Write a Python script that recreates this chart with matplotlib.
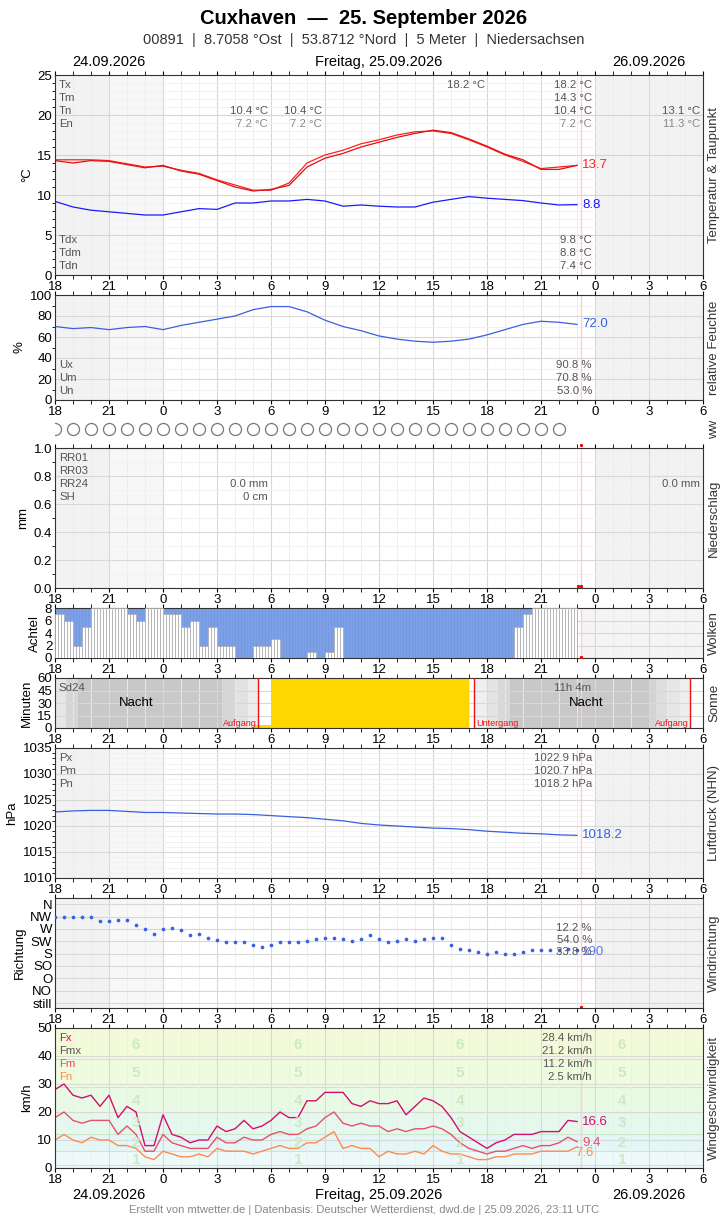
import numpy as np
import matplotlib
matplotlib.use("Agg")
import matplotlib.pyplot as plt

plt.rcParams['font.family'] = ['Liberation Sans', 'DejaVu Sans']

# ---------------- data ----------------
hour_labels = ["18", "21", "0", "3", "6", "9", "12", "15", "18", "21", "0", "3", "6"]
# hourly values from 18:00 (24.09) to 23:00 (25.09)
temp_a = [14.4, 14.4, 14.4, 14.3, 13.9, 13.5, 13.6, 13.1, 12.7, 11.9, 11.25, 10.6, 10.6, 11.5, 14.0,
          15.0, 15.6, 16.4, 16.9, 17.5, 17.9, 18.0, 17.7, 16.9, 16.0, 15.0, 14.2, 13.3, 13.5, 13.7]
temp_b = [14.3, 14.0, 14.3, 14.2, 13.8, 13.4, 13.7, 13.0, 12.6, 11.8, 11.0, 10.5, 10.7, 11.2, 13.5,
          14.6, 15.2, 16.0, 16.6, 17.2, 17.7, 18.1, 17.8, 17.0, 16.1, 15.1, 14.4, 13.2, 13.2, 13.7]
dew = [9.2, 8.5, 8.1, 7.9, 7.7, 7.5, 7.5, 7.9, 8.3, 8.2, 9.0, 9.0, 9.25, 9.25, 9.45, 9.25,
       8.6, 8.75, 8.6, 8.5, 8.5, 9.1, 9.45, 9.8, 9.6, 9.45, 9.3, 9.0, 8.75, 8.8]
humid = [70, 68, 69, 67, 69, 70, 67, 71, 74, 77, 80, 86, 89, 89, 84, 76, 70, 66, 61, 58, 56,
         55, 56, 58, 62, 67, 72, 75, 74, 72]
press = [1022.7, 1022.9, 1023.0, 1023.0, 1022.8, 1022.6, 1022.6, 1022.5, 1022.4, 1022.3, 1022.3,
         1022.2, 1022.0, 1021.8, 1021.6, 1021.3, 1021.0, 1020.5, 1020.2, 1020.0, 1019.8, 1019.6,
         1019.5, 1019.3, 1019.0, 1018.8, 1018.6, 1018.5, 1018.3, 1018.2]
# half-hourly values
cloud_clear = [7, 6, 2, 5, 8, 8, 8, 8, 7, 6, 8, 8, 7, 7, 5, 6, 2, 5, 2, 2, 0, 0, 2, 2, 3, 0, 0, 0, 1, 0,
               1, 5, 0, 0, 0, 0, 0, 0, 0, 0, 0, 0, 0, 0, 0, 0, 0, 0, 0, 0, 0, 5, 7, 8, 8, 8, 8, 8]
wind_dir = [7.0, 7.0, 7.0, 7.0, 7.0, 6.6, 6.6, 6.7, 6.7, 6.3, 6.0, 5.6, 6.0, 6.1, 5.9, 5.5, 5.6, 5.3,
            5.1, 4.9, 4.9, 4.9, 4.7, 4.5, 4.7, 4.9, 4.9, 4.9, 5.0, 5.2, 5.3, 5.3, 5.2, 5.0, 5.2, 5.5,
            5.2, 4.9, 5.0, 5.2, 5.0, 5.2, 5.3, 5.3, 4.7, 4.4, 4.3, 4.1, 4.0, 4.1, 4.0, 4.0, 4.1, 4.3,
            4.3, 4.3, 4.3, 4.4, 4.3]
gust = [28, 30, 26, 25, 26, 22, 26, 18, 22, 20, 8, 8, 19, 12, 11, 9, 10, 10, 15, 13, 14, 17, 14, 15,
        17, 20, 18, 18, 24, 24, 27, 27, 27, 23, 22, 24, 23, 23, 24, 19, 22, 25, 24, 22, 18, 13, 11, 9,
        7, 9, 10, 12, 12, 12, 13, 13, 13, 17, 16.6]
wmean = [18, 20, 17, 16, 17, 17, 17, 12, 15, 12, 6, 6, 12, 9, 8, 7, 7, 7, 11, 9, 9, 11, 10, 10, 12,
         13, 12, 12, 14, 15, 18, 20, 16, 15, 16, 15, 15, 13, 14, 13, 14, 14, 15, 14, 12, 9, 7, 6, 5, 6,
         6, 7, 8, 7, 8, 8, 9, 11, 9.4]
wmin = [10, 12, 10, 9, 11, 10, 10, 8, 8, 7, 4, 3, 6, 5, 4, 4, 5, 4, 7, 6, 6, 6, 5, 6, 7, 8, 7, 7, 9, 9,
        11, 13, 7, 8, 7, 7, 4, 6, 5, 5, 6, 5, 8, 6, 5, 5, 4, 3, 3, 4, 4, 5, 5, 5, 6, 6, 6, 6, 7.6]
sun_hours = [5, 6, 7, 8, 9, 10, 11, 12, 13, 14, 15, 16]
sun_minutes = [4, 60, 60, 60, 60, 60, 60, 60, 60, 60, 60, 60]
dir_labels = ["still", "NO", "O", "SO", "S", "SW", "W", "NW", "N"]

t_hour = np.arange(len(temp_a))
t_half = np.arange(len(gust)) * 0.5
t_dir = np.arange(len(wind_dir)) * 0.5
NOW = 29.2

W, H = 728, 1218
fig = plt.figure(figsize=(W / 100, H / 100), dpi=100)
GRAY = "#555555"


def make_ax(top, bot, left=55, right=703):
    return fig.add_axes([left / W, 1 - bot / H, (right - left) / W, (bot - top) / H])


def setup(ax, ylabel, rlabel, shade=True, minor_y=None):
    ax.set_xlim(0, 36)
    ax.set_xticks(np.arange(0, 37, 3))
    ax.set_xticklabels(hour_labels, fontsize=9)
    ax.set_xticks(np.arange(0, 37, 1), minor=True)
    ax.tick_params(axis='x', which='both', top=True, direction='out', length=3, pad=1, labelsize=9.5)
    ax.tick_params(axis='y', labelsize=9.5, length=0, pad=2)
    ax.grid(True, which='major', color='#d8d8d8', lw=0.8)
    ax.grid(True, which='minor', axis='x', color='#ececec', lw=0.6)
    if minor_y is not None:
        ax.set_yticks(minor_y, minor=True)
        ax.grid(True, which='minor', axis='y', color='#f0f0f0', lw=0.6)
    ax.set_axisbelow(True)
    if shade:
        ax.axvspan(0, 3, color='#f2f2f2', zorder=0, lw=0)
        ax.axvspan(3, 6, color='#f7f7f7', zorder=0, lw=0)
        ax.axvspan(30, 36, color='#f2f2f2', zorder=0, lw=0)
    ax.axvline(NOW, color='#ffcccc', lw=1, zorder=1)
    ax.set_ylabel(ylabel, fontsize=9.5, labelpad=3)
    ax.text(1.017, 0.5, rlabel, transform=ax.transAxes, rotation=90, ha='center', va='center',
            fontsize=9.5, color='#333333')
    for s in ax.spines.values():
        s.set_color('#333333')
        s.set_linewidth(0.8)


def txt(ax, x, y, s, ha='left', color=GRAY, size=8.2):
    ax.text(x, y, s, ha=ha, va='center', color=color, fontsize=size, transform=ax.transAxes)


def px(xp, ax_left=55, ax_w=648):
    return (xp - ax_left) / ax_w


# titles
fig.text(0.5, 1 - 18 / H, "Cuxhaven  —  25. September 2026", ha='center', va='center',
         fontsize=14.5, fontweight='bold')
fig.text(0.5, 1 - 40 / H, "00891  |  8.7058 °Ost  |  53.8712 °Nord  |  5 Meter  |  Niedersachsen",
         ha='center', va='center', fontsize=10.5, color='#333333')
for yy in (62, 1195):
    fig.text(109 / W, 1 - yy / H, "24.09.2026", ha='center', va='center', fontsize=10.5)
    fig.text(379 / W, 1 - yy / H, "Freitag, 25.09.2026", ha='center', va='center', fontsize=10.5)
    fig.text(649 / W, 1 - yy / H, "26.09.2026", ha='center', va='center', fontsize=10.5)
fig.text(0.5, 1 - 1210 / H, "Erstellt von mtwetter.de | Datenbasis: Deutscher Wetterdienst, dwd.de | 25.09.2026, 23:11 UTC",
         ha='center', va='center', fontsize=8, color='#888888')

# ---- temperature ----
ax = make_ax(75, 275)
setup(ax, "°C", "Temperatur & Taupunkt", minor_y=np.arange(0, 26, 1))
ax.set_ylim(0, 25)
ax.set_yticks([0, 5, 10, 15, 20, 25])
ax.grid(True, which='major', axis='y', color='#f4c8c8', lw=0.8)
ax.plot(t_hour, temp_a, color='#ff2020', lw=0.9)
ax.plot(t_hour, temp_b, color='#e01010', lw=0.9)
ax.plot(t_hour, dew, color='#1a1aff', lw=0.9)
ax.text(29.3, temp_a[-1], "13.7", color='#ff2020', fontsize=9.5, va='center')
ax.text(29.3, dew[-1], "8.8", color='#1a1aff', fontsize=9.5, va='center')
for i, lab in enumerate(["Tx", "Tm", "Tn", "En"]):
    txt(ax, px(59), 1 - (10 + 13 * i) / 200, lab)
for i, lab in enumerate(["Tdx", "Tdm", "Tdn"]):
    txt(ax, px(59), 1 - (165 + 13 * i) / 200, lab)
for i, v in enumerate(["18.2 °C", "14.3 °C", "10.4 °C", "7.2 °C"]):
    txt(ax, px(592), 1 - (10 + 13 * i) / 200, v, ha='right', color=GRAY if i < 3 else '#888888')
for i, v in enumerate(["9.8 °C", "8.8 °C", "7.4 °C"]):
    txt(ax, px(592), 1 - (165 + 13 * i) / 200, v, ha='right')
txt(ax, px(485), 1 - 10 / 200, "18.2 °C", ha='right')
for xx in (268, 322):
    txt(ax, px(xx), 1 - 36 / 200, "10.4 °C", ha='right')
    txt(ax, px(xx), 1 - 49 / 200, "7.2 °C", ha='right', color='#888888')
txt(ax, px(700), 1 - 36 / 200, "13.1 °C", ha='right')
txt(ax, px(700), 1 - 49 / 200, "11.3 °C", ha='right', color='#888888')

# ---- humidity ----
ax = make_ax(295, 400)
setup(ax, "%", "relative Feuchte", minor_y=np.arange(0, 101, 10))
ax.set_ylim(0, 100)
ax.set_yticks([0, 20, 40, 60, 80, 100])
ax.plot(t_hour, humid, color='#3a5fe0', lw=0.9)
ax.text(29.3, humid[-1], "72.0", color='#3a5fe0', fontsize=9.5, va='center')
for i, (lab, v) in enumerate(zip(["Ux", "Um", "Un"], ["90.8 %", "70.8 %", "53.0 %"])):
    txt(ax, px(59), (35 - 13 * i) / 105, lab)
    txt(ax, px(592), (35 - 13 * i) / 105, v, ha='right')

# ---- ww row ----
ax = make_ax(419, 439)
ax.set_xlim(0, 36)
ax.set_ylim(0, 1)
ax.axis('off')
ax.scatter(np.arange(0, 29), np.full(29, 0.5), s=75, facecolors='white', edgecolors='#777777', lw=0.9)
ax.plot([NOW], [-0.3], marker='s', ms=1.2, color='red', clip_on=False)
ax.text(1.017, 0.5, "ww", transform=ax.transAxes, rotation=90, ha='center', va='center', fontsize=9.5,
        color='#333333')

# ---- precipitation ----
ax = make_ax(448, 588)
setup(ax, "mm", "Niederschlag", minor_y=np.arange(0, 1.01, 0.1))
ax.set_ylim(0, 1)
ax.set_yticks(np.arange(0, 1.01, 0.2))
ax.set_yticklabels(["0.0", "0.2", "0.4", "0.6", "0.8", "1.0"])
ax.plot([NOW - 0.15, NOW + 0.05], [0.012, 0.012], 's', ms=1.2, color='red')
for i, lab in enumerate(["RR01", "RR03", "RR24", "SH"]):
    txt(ax, px(59), 1 - (10 + 13 * i) / 140, lab)
txt(ax, px(268), 1 - 36 / 140, "0.0 mm", ha='right')
txt(ax, px(268), 1 - 49 / 140, "0 cm", ha='right')
txt(ax, px(700), 1 - 36 / 140, "0.0 mm", ha='right')

# ---- clouds ----
ax = make_ax(608, 658)
setup(ax, "Achtel", "Wolken", shade=False)
ax.axvspan(NOW, 36, color='#f4f4f4', zorder=0, lw=0)
ax.set_ylim(0, 8)
ax.set_yticks([0, 2, 4, 6, 8])
clear10 = np.repeat(cloud_clear, 3)
t10 = np.arange(len(clear10)) / 6.0
ax.bar(t10, np.full(len(t10), 8), width=1 / 6, align='edge', color='#7ca0e8', edgecolor='#6c90dc',
       lw=0.4, zorder=2)
ax.bar(t10, clear10, width=1 / 6, align='edge', color='white', edgecolor='#a8a8a8', lw=0.5, zorder=3)
ax.plot([NOW], [0.2], 's', ms=1.2, color='red', zorder=4)

# ---- sunshine ----
ax = make_ax(678, 728)
setup(ax, "Minuten", "Sonne", shade=False)
ax.set_ylim(0, 60)
ax.set_yticks([0, 15, 30, 45, 60])
bands = [(0, 0.6, '#e6e6e6'), (0.6, 1.3, '#d6d6d6'), (1.3, 9.3, '#c8c8c8'), (9.3, 10.0, '#d6d6d6'),
         (10.0, 10.7, '#e2e2e2'), (10.7, 11.3, '#ededed'),
         (23.3, 24.0, '#efefef'), (24.0, 24.6, '#e4e4e4'), (24.6, 25.3, '#d8d8d8'), (25.3, 33.0, '#c8c8c8'),
         (33.0, 33.4, '#d4d4d4'), (33.4, 34.0, '#dedede'), (34.0, 34.7, '#e6e6e6'), (34.7, 35.3, '#eeeeee')]
for a, b, c in bands:
    ax.axvspan(a, b, color=c, zorder=0, lw=0)
ax.bar(np.array(sun_hours) + 6, sun_minutes, width=1, align='edge', color='#ffd700', zorder=2)
for xs in (11.3, 23.3, 35.3):
    ax.axvline(xs, color='#ee1111', lw=1, zorder=3)
ax.text(11.2, 6, "Aufgang", color='#ee1111', fontsize=6.5, ha='right', va='center')
ax.text(23.4, 6, "Untergang", color='#ee1111', fontsize=6.5, ha='left', va='center')
ax.text(35.2, 6, "Aufgang", color='#ee1111', fontsize=6.5, ha='right', va='center')
ax.text(4.5, 30, "Nacht", fontsize=9.5, ha='center', va='center')
ax.text(29.5, 30, "Nacht", fontsize=9.5, ha='center', va='center')
ax.text(0.2, 48, "Sd24", fontsize=8.2, color=GRAY, va='center')
ax.text(29.8, 48, "11h 4m", fontsize=8.2, color=GRAY, va='center', ha='right')

# ---- pressure ----
ax = make_ax(748, 878)
setup(ax, "hPa", "Luftdruck (NHN)", minor_y=np.arange(1010, 1036, 1))
ax.set_ylim(1010, 1035)
ax.set_yticks(np.arange(1010, 1036, 5))
ax.plot(t_hour, press, color='#3a5fe0', lw=0.9)
ax.text(29.3, press[-1], "1018.2", color='#3a5fe0', fontsize=9.5, va='center')
for i, (lab, v) in enumerate(zip(["Px", "Pm", "Pn"], ["1022.9 hPa", "1020.7 hPa", "1018.2 hPa"])):
    txt(ax, px(59), 1 - (10 + 13 * i) / 130, lab)
    txt(ax, px(592), 1 - (10 + 13 * i) / 130, v, ha='right')

# ---- wind direction ----
ax = make_ax(898, 1008)
setup(ax, "Richtung", "Windrichtung")
ax.set_ylim(-0.4, 8.5)
ax.set_yticks(range(9))
ax.set_yticklabels(dir_labels)
ax.scatter(t_dir, wind_dir, s=7, color='#3a5fe0', zorder=3, marker='o', lw=0)
ax.plot([NOW], [-0.3], 's', ms=1.2, color='red')
for i, v in enumerate(["12.2 %", "54.0 %", "33.8 %"]):
    txt(ax, px(592), 1 - (30 + 12 * i) / 110, v, ha='right')
ax.text(29.3, 4.1, "190", color='#3a5fe0', fontsize=9.5, va='center', alpha=0.8)

# ---- wind speed ----
ax = make_ax(1028, 1168)
setup(ax, "km/h", "Windgeschwindigkeit", shade=False)
ax.set_ylim(0, 50)
ax.set_yticks(np.arange(0, 51, 10))
bft = [(0, 6, '#eefafa'), (6, 12, '#e4f6f6'), (12, 20, '#e6f8ee'), (20, 29, '#e9fae4'),
       (29, 39, '#effbdf'), (39, 50, '#f3fada')]
for a, b, c in bft:
    ax.axhspan(a, b, color=c, zorder=0, lw=0)
for b in (1, 6, 12, 20, 29, 39):
    ax.axhline(b, color='#c8e6c8', lw=0.8, zorder=0.5)
for xx in (4.5, 13.5, 22.5, 31.5):
    for n, yy in zip(range(1, 7), (3, 9, 16, 24, 34, 44)):
        ax.text(xx, yy, str(n), fontsize=11, color='#c8e8c0', ha='center', va='center',
                fontweight='bold', alpha=0.9)
ax.plot(t_half, gust, color='#d0106c', lw=1)
ax.plot(t_half, wmean, color='#e8506a', lw=1)
ax.plot(t_half, wmin, color='#ff8a50', lw=1)
ax.text(29.3, gust[-1], "16.6", color='#d0106c', fontsize=9.5, va='center')
ax.text(29.3, wmean[-1] - 0.6, "9.4", color='#e8506a', fontsize=9.5, va='center')
ax.text(28.9, wmin[-1] - 2.4, "7.6", color='#ff8a50', fontsize=9.5, va='center')
for i, (lab, c, v) in enumerate(zip(["Fx", "Fmx", "Fm", "Fn"],
                                    ['#d0106c', GRAY, '#e8506a', '#ff8a50'],
                                    ["28.4 km/h", "21.2 km/h", "11.2 km/h", "2.5 km/h"])):
    txt(ax, px(59), 1 - (10 + 13 * i) / 140, lab, color=c)
    txt(ax, px(592), 1 - (10 + 13 * i) / 140, v, ha='right')

fig.savefig("out.png", dpi=100)
